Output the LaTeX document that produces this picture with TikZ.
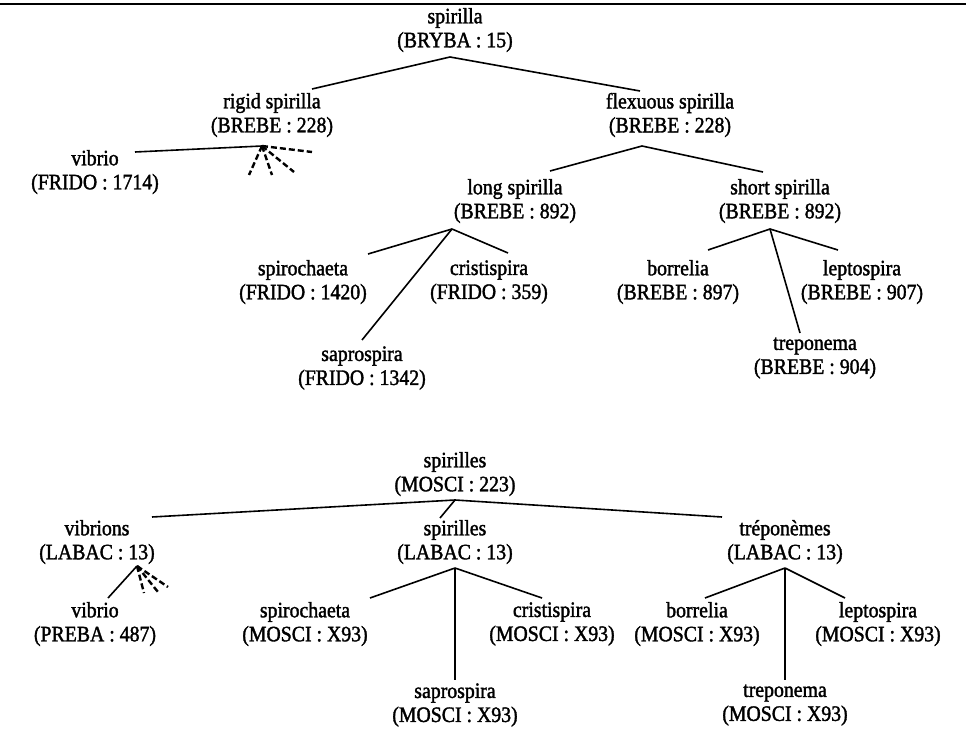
\documentclass[tikz,border=0pt]{standalone}
\usepackage{fontspec}
\setmainfont{Liberation Serif}[FakeStretch=0.9,FakeBold=1.6]
\begin{document}
\begin{tikzpicture}[x=1pt,y=-1pt,
  lbl/.style={align=center, inner sep=0pt, font=\fontsize{22}{24}\selectfont},
  edge/.style={line width=1.6pt},
  dashedge/.style={line width=2.4pt, dash pattern=on 6pt off 3pt}]
\useasboundingbox (0,0) rectangle (966,730);
\fill[white] (0,0) rectangle (966,730);
\draw[line width=1.8pt] (0,4) -- (966,4);

% ---------- top tree ----------
\node[lbl] (troot)  at (455,30)  {spirilla\\(BRYBA : 15)};
\node[lbl] (trigid) at (272,115) {rigid spirilla\\(BREBE : 228)};
\node[lbl] (tflex)  at (670,115) {flexuous spirilla\\(BREBE : 228)};
\node[lbl] (tvib)   at (95,172)  {vibrio\\(FRIDO : 1714)};
\node[lbl] (tlong)  at (515,201) {long spirilla\\(BREBE : 892)};
\node[lbl] (tshort) at (780,201) {short spirilla\\(BREBE : 892)};
\node[lbl] (tspiro) at (303,282) {spirochaeta\\(FRIDO : 1420)};
\node[lbl] (tcris)  at (489,282) {cristispira\\(FRIDO : 359)};
\node[lbl] (tsapro) at (362,368) {saprospira\\(FRIDO : 1342)};
\node[lbl] (tborr)  at (678,282) {borrelia\\(BREBE : 897)};
\node[lbl] (tlept)  at (862,282) {leptospira\\(BREBE : 907)};
\node[lbl] (ttrep)  at (815,358) {treponema\\(BREBE : 904)};

\coordinate (trootA) at (450,57);
\coordinate (trigidE) at (312,89);
\coordinate (tflexE) at (640,91);
\coordinate (trigidA) at (262,146);
\coordinate (tvibE) at (135,152);
\coordinate (tflexA) at (642,146);
\coordinate (tlongE) at (550,171);
\coordinate (tshortE) at (763,172);
\coordinate (tlongA) at (452,229);
\coordinate (tspiroE) at (368,254);
\coordinate (tcrisE) at (508,253);
\coordinate (tsaproE) at (362,340);
\coordinate (tshortA) at (770,229);
\coordinate (tborrE) at (708,250);
\coordinate (tleptE) at (838,250);
\coordinate (ttrepE) at (800,333);
\coordinate (td1) at (312,152);
\coordinate (td2) at (294,172);
\coordinate (td3) at (272,175);
\coordinate (td4) at (249,175);

\draw[edge] (trigidE) -- (trootA) -- (tflexE);
\draw[edge] (trigidA) -- (tvibE);
\foreach \d in {td1,td2,td3,td4} \draw[dashedge] (trigidA) -- (\d);
\draw[edge] (tlongE) -- (tflexA) -- (tshortE);
\draw[edge] (tlongA) -- (tspiroE);
\draw[edge] (tlongA) -- (tcrisE);
\draw[edge] (tlongA) -- (tsaproE);
\draw[edge] (tshortA) -- (tborrE);
\draw[edge] (tshortA) -- (tleptE);
\draw[edge] (tshortA) -- (ttrepE);

% ---------- bottom tree ----------
\node[lbl] (broot)  at (455,474) {spirilles\\(MOSCI : 223)};
\node[lbl] (bvibs)  at (97,542)  {vibrions\\(LABAC : 13)};
\node[lbl] (bspir)  at (455,542) {spirilles\\(LABAC : 13)};
\node[lbl] (btrep)  at (785,542) {tréponèmes\\(LABAC : 13)};
\node[lbl] (bvib)   at (95,624)  {vibrio\\(PREBA : 487)};
\node[lbl] (bspiro) at (305,624) {spirochaeta\\(MOSCI : X93)};
\node[lbl] (bcris)  at (552,624) {cristispira\\(MOSCI : X93)};
\node[lbl] (bsapro) at (455,705) {saprospira\\(MOSCI : X93)};
\node[lbl] (bborr)  at (697,624) {borrelia\\(MOSCI : X93)};
\node[lbl] (blept)  at (878,624) {leptospira\\(MOSCI : X93)};
\node[lbl] (btrep2) at (785,705) {treponema\\(MOSCI : X93)};

\coordinate (brootA) at (455,500);
\coordinate (bvibsE) at (152,517);
\coordinate (bspirE) at (440,518);
\coordinate (btrepE) at (722,517);
\coordinate (bvibsA) at (137,566);
\coordinate (bvibE) at (108,598);
\coordinate (bd1) at (168,587);
\coordinate (bd2) at (158,592);
\coordinate (bd3) at (144,593);
\coordinate (bspirA) at (455,568);
\coordinate (bspiroE) at (370,598);
\coordinate (bcrisE) at (542,598);
\coordinate (bsaproE) at (455,680);
\coordinate (btrepA) at (785,568);
\coordinate (bborrE) at (705,598);
\coordinate (bleptE) at (845,598);
\coordinate (btrep2E) at (785,680);

\draw[edge] (bvibsE) -- (brootA) -- (btrepE);
\draw[edge] (brootA) -- (bspirE);
\draw[edge] (bvibsA) -- (bvibE);
\foreach \d in {bd1,bd2,bd3} \draw[dashedge] (bvibsA) -- (\d);
\draw[edge] (bspirA) -- (bspiroE);
\draw[edge] (bspirA) -- (bcrisE);
\draw[edge] (bspirA) -- (bsaproE);
\draw[edge] (btrepA) -- (bborrE);
\draw[edge] (btrepA) -- (bleptE);
\draw[edge] (btrepA) -- (btrep2E);
\end{tikzpicture}
\end{document}
